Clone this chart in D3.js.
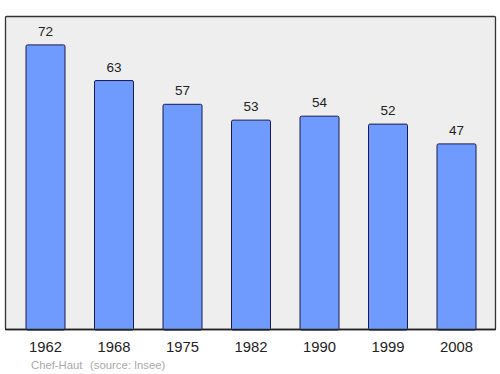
<!DOCTYPE html>
<html>
<head>
<meta charset="utf-8">
<script src="https://cdn.jsdelivr.net/npm/d3@7"></script>
<style>
  body { margin: 0; background: #fff; }
  text { font-family: "Liberation Sans", Arial, sans-serif; }
</style>
</head>
<body>
<div id="chart"></div>
<script>
const years = ["1962", "1968", "1975", "1982", "1990", "1999", "2008"]
const population = [72, 63, 57, 53, 54, 52, 47]
const commune = "Chef-Haut"
const source = "(source: Insee)"

const W = 500, H = 374
const svg = d3.select('#chart').append('svg')
    .attr('width', W)
    .attr('height', H)

// plot frame
svg.append('rect')
    .attr('x', 5.5).attr('y', 16.5)
    .attr('width', 490).attr('height', 313)
    .attr('rx', 1)
    .attr('fill', '#eeeeee')
    .attr('stroke', '#333')
    .attr('stroke-width', 1.3)

let x = d3.scalePoint().domain(years).range([45.5, 456.5])
let y = d3.scaleLinear().domain([0, 79.3]).range([330, 16])
let barW = 39

const data = years.map((d, i) => ({ year: d, value: population[i] }))

svg.selectAll('rect.bar').data(data)
    .enter()
    .append('rect')
    .attr('class', 'bar')
    .attr('x', d => x(d.year) - barW / 2)
    .attr('y', d => y(d.value))
    .attr('width', barW)
    .attr('height', d => y(0) - y(d.value))
    .attr('rx', 1.5)
    .attr('fill', '#6f9bff')
    .attr('stroke', '#1a1a4a')
    .attr('stroke-width', 1)

svg.selectAll('text.val').data(data)
    .enter()
    .append('text')
    .attr('class', 'val')
    .attr('x', d => x(d.year))
    .attr('y', d => y(d.value) - 9)
    .attr('text-anchor', 'middle')
    .attr('font-size', 13.5)
    .attr('fill', '#222')
    .text(d => d.value)

// redraw frame bottom line over bars
svg.append('line')
    .attr('x1', 5).attr('x2', 496)
    .attr('y1', 329.5).attr('y2', 329.5)
    .attr('stroke', '#222').attr('stroke-width', 1.5)

svg.selectAll('text.year').data(years)
    .enter()
    .append('text')
    .attr('class', 'year')
    .attr('x', d => x(d))
    .attr('y', 352)
    .attr('text-anchor', 'middle')
    .attr('font-size', 14.8)
    .attr('fill', '#222')
    .text(d => d)

svg.append('text')
    .attr('x', 31).attr('y', 369)
    .attr('font-size', 11.3)
    .attr('fill', '#aaa')
    .text(commune)

svg.append('text')
    .attr('x', 90).attr('y', 369)
    .attr('font-size', 11.3)
    .attr('fill', '#aaa')
    .text(source)
</script>
</body>
</html>
